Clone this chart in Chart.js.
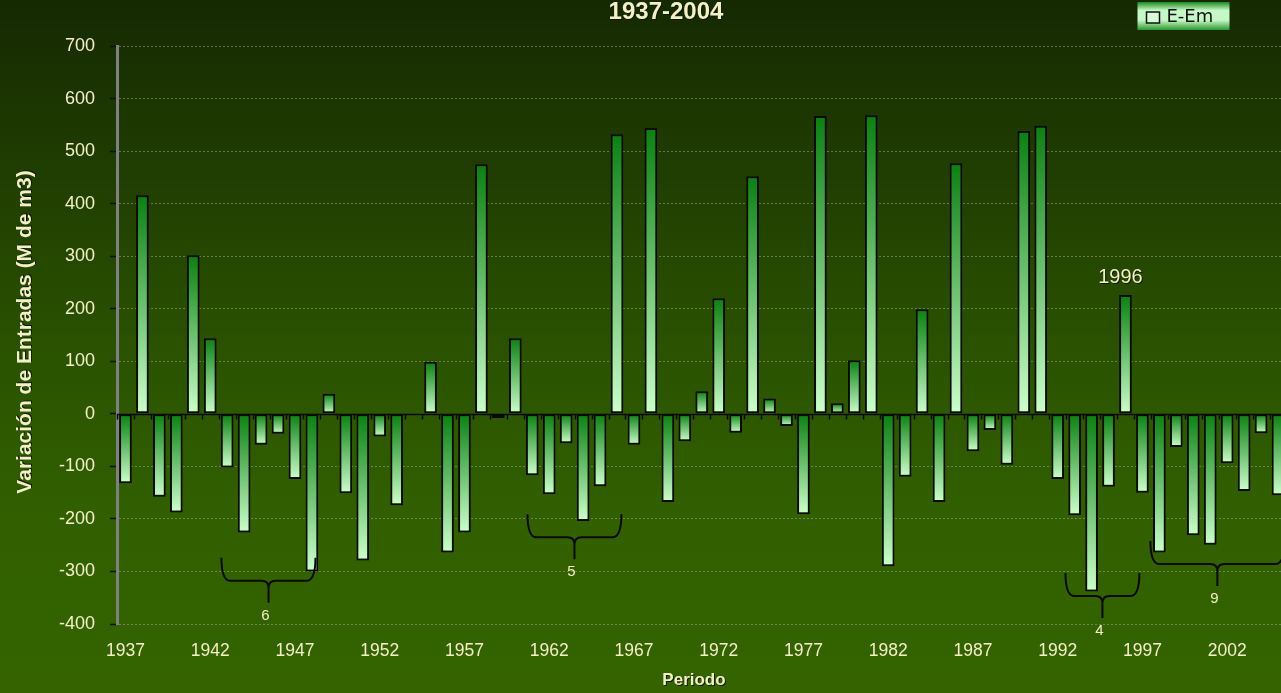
<!DOCTYPE html>
<html>
<head>
<meta charset="utf-8">
<title>Variación de Entradas 1937-2004</title>
<script src="https://cdn.jsdelivr.net/npm/chart.js@4.4.1/dist/chart.umd.min.js"></script>
<style>
  html, body { margin: 0; padding: 0; overflow: hidden; background: #1c3302; }
  #wrap { width: 1332px; height: 693px; }
</style>
</head>
<body>
<div id="wrap"><canvas id="entradas" width="1332" height="693"></canvas></div>
<script>
// years of the series (one bar each)
const years = [
  '1937','1938','1939','1940','1941','1942','1943','1944','1945','1946',
  '1947','1948','1949','1950','1951','1952','1953','1954','1955','1956',
  '1957','1958','1959','1960','1961','1962','1963','1964','1965','1966',
  '1967','1968','1969','1970','1971','1972','1973','1974','1975','1976',
  '1977','1978','1979','1980','1981','1982','1983','1984','1985','1986',
  '1987','1988','1989','1990','1991','1992','1993','1994','1995','1996',
  '1997','1998','1999','2000','2001','2002','2003','2004','2005'
];

// E-Em : inflow minus mean inflow, hm3
const eEm = [
  -132, 416, -158, -188, 302, 144, -102, -226, -59, -38,
  -124, -300, 38, -151, -279, -43, -174, 0, 99, -264,
  -226, 475, -8, 144, -117, -153, -56, -204, -138, 532,
  -59, 544, -168, -52, 43, 220, -36, 452, 29, -23,
  -191, 567, 20, 102, 568, -290, -120, 199, -168, 477,
  -71, -31, -97, 538, 548, -124, -193, -338, -139, 226,
  -150, -264, -63, -231, -249, -94, -147, -37, -155
];

// y axis range
const yMin = -400;
const yMax = 700;
const yStep = 100;

// labelled year and the dry spells marked with a brace (count of years)
const markedYear = '1996';
const dryLabels = ['6', '5', '4', '9'];
const dryFrom   = [1942.66, 1960.72, 1992.46, 1997.47];
const dryTo     = [1948.21, 1966.26, 1996.82, 2005.38];
const dryTip    = [1945.44, 1963.49, 1994.64, 2001.42];
const dryTop    = [-274, -191, -303, -242];

const chartTitle = '1937-2004';
const cream = '#f3efc6';
const family = "'Liberation Sans', Arial, sans-serif";

// each bar fades from dark green on its top edge to pale green on its bottom edge
function barFill(ctx) {
  const chart = ctx.chart;
  const ys = chart.scales.y;
  if (!ys || ctx.type !== 'data') return '#0b8012';
  const yv = ys.getPixelForValue(ctx.raw);
  const y0 = ys.getPixelForValue(0);
  if (!isFinite(yv) || !isFinite(y0)) return '#0b8012';
  const top = Math.min(yv, y0), bot = Math.max(yv, y0);
  if (bot - top < 1) return '#9ddc9d';
  const g = chart.ctx.createLinearGradient(0, top, 0, bot);
  g.addColorStop(0, '#0b8012');
  g.addColorStop(1, '#ccffcc');
  return g;
}

function yearPos(year) {
  return year - Number(years[0]);
}

function drawBrace(ctx, xl, xr, xm, y1, y2, y3) {
  const rr = 9, rc = 7;
  ctx.beginPath();
  ctx.moveTo(xl, y1);
  ctx.quadraticCurveTo(xl, y2, xl + rr, y2);
  ctx.lineTo(xm - rc, y2);
  ctx.quadraticCurveTo(xm, y2, xm, y2 + rc);
  ctx.lineTo(xm, y3);
  ctx.moveTo(xm, y2 + rc);
  ctx.quadraticCurveTo(xm, y2, xm + rc, y2);
  ctx.lineTo(xr - rr, y2);
  ctx.quadraticCurveTo(xr, y2, xr, y1);
  ctx.stroke();
}

function shadowText(ctx, text, x, y) {
  ctx.fillStyle = 'rgba(10,20,0,0.85)';
  ctx.fillText(text, x + 1, y + 1);
  ctx.fillStyle = cream;
  ctx.fillText(text, x, y);
}

const decor = {
  id: 'decor',
  beforeDraw(chart) {
    const {ctx, width, height} = chart;
    const g = ctx.createLinearGradient(0, 0, 0, height);
    g.addColorStop(0, '#162902');
    g.addColorStop(0.5, '#2a5201');
    g.addColorStop(0.75, '#326000');
    g.addColorStop(1, '#346300');
    ctx.save();
    ctx.fillStyle = g;
    ctx.fillRect(0, 0, width, height);
    ctx.restore();
  },
  afterDatasetsDraw(chart) {
    const {ctx} = chart;
    const xs = chart.scales.x, ys = chart.scales.y;
    const y0 = Math.round(ys.getPixelForValue(0)) + 0.5;
    const n = years.length;
    const step = xs.width / n;

    ctx.save();
    // category axis crossing at zero, ticks between years
    ctx.strokeStyle = '#0a0a0a';
    ctx.lineWidth = 1.5;
    ctx.beginPath();
    ctx.moveTo(xs.left, y0);
    ctx.lineTo(xs.right, y0);
    for (let i = 0; i <= n; i++) {
      const bx = Math.round(xs.left + i * step) + 0.5;
      ctx.moveTo(bx, y0);
      ctx.lineTo(bx, y0 + 5);
    }
    ctx.stroke();

    // braces under the dry spells
    ctx.lineWidth = 2;
    ctx.strokeStyle = '#0a0a0a';
    ctx.font = '15px ' + family;
    ctx.textAlign = 'center';
    ctx.textBaseline = 'middle';
    for (let i = 0; i < dryLabels.length; i++) {
      const xl = xs.getPixelForValue(yearPos(dryFrom[i]));
      const xr = xs.getPixelForValue(yearPos(dryTo[i]));
      const xm = xs.getPixelForValue(yearPos(dryTip[i]));
      const yt = ys.getPixelForValue(dryTop[i]);
      drawBrace(ctx, xl, xr, xm, yt, yt + 23, yt + 45);
      ctx.fillStyle = cream;
      ctx.fillText(dryLabels[i], xm - 3, yt + 58);
    }

    // year label above its bar
    const idx = years.indexOf(markedYear);
    const bx = xs.getPixelForValue(idx);
    const by = ys.getPixelForValue(eEm[idx]);
    ctx.font = '20px ' + family;
    shadowText(ctx, markedYear, bx - 5, by - 18);
    ctx.restore();
  },
  afterDraw(chart) {
    const {ctx} = chart;
    ctx.save();
    ctx.textAlign = 'center';
    ctx.textBaseline = 'middle';

    // chart title, centred on the whole canvas
    ctx.font = 'bold 24px ' + family;
    shadowText(ctx, chartTitle, chart.width / 2, 12);

    // axis titles
    ctx.font = 'bold 17px ' + family;
    shadowText(ctx, 'Periodo', 694, 680);
    ctx.translate(25, 332);
    ctx.rotate(-Math.PI / 2);
    ctx.font = 'bold 21px ' + family;
    shadowText(ctx, 'Variación de Entradas (M de m3)', 0, 0);
    ctx.setTransform(1, 0, 0, 1, 0, 0);

    // legend box
    const lx = 1137.5, ly = 2, lw = 92, lh = 28;
    const lg = ctx.createLinearGradient(0, ly, 0, ly + lh);
    lg.addColorStop(0, '#1b8a1b');
    lg.addColorStop(0.3, '#c6f7c6');
    lg.addColorStop(0.65, '#c6f7c6');
    lg.addColorStop(1, '#2b982b');
    ctx.fillStyle = lg;
    ctx.fillRect(lx, ly, lw, lh);
    ctx.fillStyle = '#d6fbd6';
    ctx.strokeStyle = '#111';
    ctx.lineWidth = 1.5;
    ctx.fillRect(lx + 9, ly + 10, 13, 11);
    ctx.strokeRect(lx + 9, ly + 10, 13, 11);
    ctx.fillStyle = '#111';
    ctx.textAlign = 'left';
    ctx.font = "18px 'DejaVu Sans', sans-serif";
    ctx.fillText(chart.data.datasets[0].label, lx + 29, ly + 15);
    ctx.restore();
  }
};

new Chart(document.getElementById('entradas'), {
  type: 'bar',
  data: {
    labels: years,
    datasets: [{
      label: 'E-Em',
      data: eEm,
      backgroundColor: barFill,
      borderColor: '#0a0a0a',
      borderWidth: 2,
      borderSkipped: false,
      barPercentage: 0.75,
      categoryPercentage: 1.0
    }]
  },
  plugins: [decor],
  options: {
    responsive: false,
    animation: false,
    layout: { padding: { top: 46, right: 45.5, bottom: 0, left: 0 } },
    plugins: {
      legend: { display: false },
      tooltip: { enabled: false },
      title: { display: false }
    },
    scales: {
      x: {
        grid: { display: false, drawTicks: false },
        border: { display: false },
        ticks: {
          color: cream,
          font: { family: family, size: 17.5 },
          padding: 17,
          autoSkip: false,
          maxRotation: 0,
          callback: function (value, i) {
            return i % 5 === 0 ? this.getLabelForValue(value) : '';
          }
        },
        afterFit(scale) { scale.height = 69; }
      },
      y: {
        min: yMin,
        max: yMax,
        ticks: {
          stepSize: yStep,
          color: cream,
          font: { family: family, size: 18 },
          padding: 15
        },
        grid: {
          color: (c) => c.tick && c.tick.value === 0 ? 'rgba(0,0,0,0)' : 'rgba(160,168,150,0.55)',
          lineWidth: 1,
          tickColor: '#111',
          tickLength: 7,
          tickWidth: 1.5
        },
        border: { color: '#808080', width: 3, dash: [2, 2] },
        afterFit(scale) { scale.width = 117; }
      }
    }
  }
});
</script>
</body>
</html>
